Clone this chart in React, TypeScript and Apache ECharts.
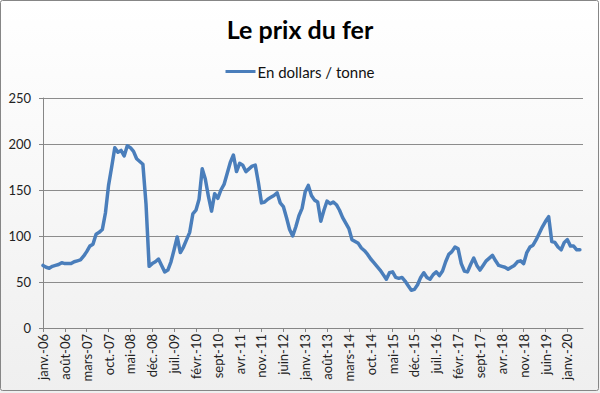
import React, { useEffect, useRef } from "react";
import * as echarts from "echarts";

const MONTHS = ["janv.", "févr.", "mars", "avr.", "mai", "juin", "juil.", "août", "sept", "oct.", "nov.", "déc."];
const START_YEAR = 2006;
const CATEGORY_COUNT = 174;

const categories: string[] = Array.from({ length: CATEGORY_COUNT }, (_, i) => {
  const m = i % 12;
  const y = START_YEAR + Math.floor(i / 12);
  return `${MONTHS[m]}-${String(y % 100).padStart(2, "0")}`;
});

const prices2006_2009: number[] = [
  68, 66, 65, 67, 68, 69, 71, 70, 70, 70, 72, 73,
  74, 78, 83, 89, 91, 102, 104, 107, 125, 155, 175, 196,
  191, 193, 187, 198, 196, 192, 184, 181, 178, 135, 67, 70,
  72, 75, 68, 61, 63, 72, 85, 99, 82, 88, 96, 104,
];
const prices2010_2013: number[] = [
  124, 128, 140, 173, 162, 143, 127, 146, 141, 150, 156, 168,
  180, 188, 170, 179, 177, 170, 173, 176, 177, 158, 136, 137,
  140, 142, 144, 147, 136, 132, 120, 107, 100, 110, 122, 130,
  148, 155, 144, 139, 137, 116, 128, 138, 135, 137, 134, 128,
];
const prices2014_2017: number[] = [
  120, 114, 108, 96, 94, 92, 87, 84, 80, 75, 71, 67,
  63, 58, 53, 60, 61, 55, 54, 55, 51, 46, 41, 42,
  47, 55, 60, 55, 53, 58, 61, 57, 62, 72, 80, 83,
  88, 86, 70, 62, 61, 69, 76, 68, 63, 68, 73, 76,
];
const prices2018_2020: number[] = [
  79, 73, 68, 67, 66, 64, 66, 68, 72, 73, 70, 82,
  88, 90, 96, 103, 110, 116, 121, 94, 93, 88, 85, 93,
  96, 89, 89, 85, 85,
];

const prices: (number | null)[] = [
  ...prices2006_2009,
  ...prices2010_2013,
  ...prices2014_2017,
  ...prices2018_2020,
];
while (prices.length < CATEGORY_COUNT) prices.push(null);

const yTicks = { min: 0, max: 250, interval: 50 };
const TITLE = "Le prix du fer";
const SERIES_NAME = "En dollars / tonne";

export default function App() {
  const ref = useRef<HTMLDivElement>(null);
  useEffect(() => {
    if (!ref.current) return;
    const chart = echarts.init(ref.current, null, { renderer: "svg" });
    const font = "Lato, 'Noto Sans', sans-serif";
    chart.setOption({
      animation: false,
      backgroundColor: {
        type: "linear", x: 0, y: 0, x2: 0, y2: 1,
        colorStops: [
          { offset: 0, color: "#ffffff" },
          { offset: 1, color: "#efefef" },
        ],
      },
      title: {
        text: TITLE,
        left: "center",
        top: 11,
        textStyle: { fontFamily: font, fontWeight: "bold", fontSize: 25, color: "#000" },
      },
      legend: {
        top: 59,
        left: "center",
        itemWidth: 30,
        itemHeight: 10,
        itemGap: 4,
        icon: "path://M0,3.5 L30,3.5 L30,6.5 L0,6.5 Z",
        textStyle: { fontFamily: font, fontSize: 15, color: "#111", padding: [0, 0, 0, -3] },
        data: [SERIES_NAME],
      },
      grid: { left: 43, right: 17, top: 98, bottom: 65, containLabel: false },
      xAxis: {
        type: "category",
        data: categories,
        boundaryGap: false,
        axisLine: { lineStyle: { color: "#868686", width: 1 } },
        axisTick: { interval: 6, length: 4, lineStyle: { color: "#868686" } },
        axisLabel: {
          interval: 6,
          rotate: 90,
          margin: 6,
          fontFamily: font,
          fontSize: 13,
          color: "#222",
        },
        splitLine: { show: false },
      },
      yAxis: {
        type: "value",
        min: yTicks.min,
        max: yTicks.max,
        interval: yTicks.interval,
        axisLine: { show: true, lineStyle: { color: "#868686", width: 1 } },
        axisTick: { show: true, length: 4, lineStyle: { color: "#868686" } },
        axisLabel: { margin: 12, fontFamily: font, fontSize: 13, color: "#222" },
        splitLine: { lineStyle: { color: "#8c8c8c", width: 1 } },
      },
      series: [
        {
          name: SERIES_NAME,
          type: "line",
          data: prices,
          showSymbol: false,
          symbol: "none",
          connectNulls: false,
          lineStyle: { color: "#4a7ebb", width: 3.5, join: "round", cap: "round" },
          itemStyle: { color: "#4a7ebb" },
        },
      ],
      graphic: [
        {
          type: "rect",
          shape: { x: 0.5, y: 0.5, width: 598, height: 390, r: 2 },
          style: { fill: "none", stroke: "#868686", lineWidth: 1 },
          silent: true,
        },
      ],
    });
    return () => chart.dispose();
  }, []);
  return (
    <div
      ref={ref}
      style={{ position: "absolute", left: 0, top: 0, width: 600, height: 393 }}
    />
  );
}
